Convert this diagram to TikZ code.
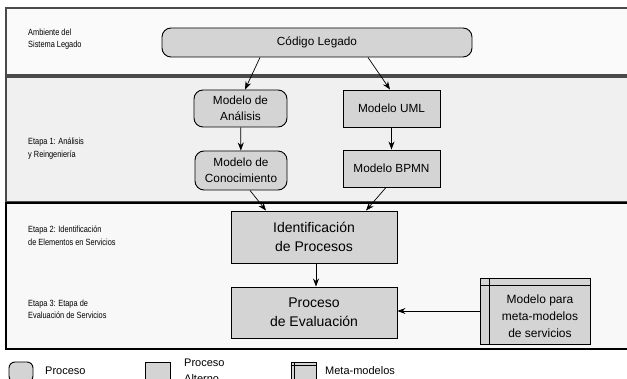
\documentclass[tikz,border=0pt]{standalone}
\usepackage{fontspec}
\setmainfont{Liberation Sans}
\newfontfamily\estrecha[FakeStretch=0.82]{Liberation Sans}
\usepackage{tikz}
\usetikzlibrary{arrows.meta, positioning}
\definecolor{nodegray}{HTML}{D4D4D4}
\definecolor{laneone}{HTML}{FAFAFA}
\definecolor{lanetwo}{HTML}{F0F0F0}
\definecolor{lanethree}{HTML}{F8F8F8}
\definecolor{lanedark}{HTML}{4A4A4A}
\tikzstyle{proceso} = [rectangle, rounded corners=9pt, inner sep=0pt, align=center, draw=black, line width=0.9pt, fill=nodegray, font=\fontsize{11.8}{16}\selectfont]
\tikzstyle{alterno} = [rectangle, inner sep=0pt, align=center, draw=black, line width=0.9pt, fill=nodegray, font=\fontsize{11.8}{16}\selectfont]
\tikzstyle{grande} = [font=\fontsize{14}{19}\selectfont]
\tikzstyle{metabox} = [rectangle, inner sep=0pt, draw=black, line width=0.9pt, fill=nodegray]
\tikzstyle{lanelabel} = [anchor=west, align=left, inner sep=0pt, font=\estrecha\fontsize{9}{12.5}\selectfont]
\tikzstyle{leglabel} = [anchor=west, align=left, inner sep=0pt, font=\fontsize{11}{16}\selectfont]
\tikzstyle{arrow} = [line width=0.7pt, -{Stealth[length=8pt, width=6pt]}]

\begin{document}
\begin{tikzpicture}[x=1pt, y=-1pt]
    \clip (0,0) rectangle (627,379);
    % carriles
    \draw[fill=laneone, draw=lanedark, line width=1.5pt] (6,8) rectangle (640,75);
    \draw[fill=lanetwo, draw=lanedark, line width=1.5pt] (6,77) rectangle (640,202);
    \draw[fill=lanethree, draw=black, line width=1.5pt] (6,203) rectangle (640,349);

    \node[lanelabel] (ambiente) at (28,39) {Ambiente del\\Sistema Legado};
    \node[lanelabel] (etapa1) at (28,148.5) {Etapa 1: Análisis\\y Reingeniería};
    \node[lanelabel] (etapa2) at (28,235.5) {Etapa 2: Identificación\\de Elementos en Servicios};
    \node[lanelabel] (etapa3) at (28,309.5) {Etapa 3: Etapa de\\Evaluación de Servicios};

    \node[proceso, minimum width=310, minimum height=29] (codigo) at (317,42.5) {Código Legado};
    \node[proceso, minimum width=93, minimum height=37] (analisis) at (240.5,108.5) {Modelo de\\Análisis};
    \node[proceso, minimum width=92, minimum height=39] (conoc) at (241,170.5) {Modelo de\\Conocimiento};
    \node[alterno, minimum width=97, minimum height=37] (uml) at (391.5,108.5) {Modelo UML};
    \node[alterno, minimum width=97, minimum height=37] (bpmn) at (391.5,168.5) {Modelo BPMN};

    \node[alterno, grande, minimum width=166, minimum height=52] (ident) at (314,237) {Identificación\\de Procesos};
    \node[alterno, grande, minimum width=166, minimum height=51] (evalua) at (314,312.5) {Proceso\\de Evaluación};

    \node[metabox, minimum width=110, minimum height=66] (meta) at (535,311) {};
    \draw[line width=0.9pt] ([yshift=-8pt]meta.north west) -- ([yshift=-8pt]meta.north east);
    \draw[line width=0.9pt] ([xshift=10pt]meta.north west) -- ([xshift=10pt]meta.south west);
    \node[align=center, inner sep=0pt, font=\fontsize{12}{17}\selectfont] (metatexto) at (540,316) {Modelo para\\meta-modelos\\de servicios};

    \draw[arrow] ([xshift=-57pt]codigo.south) -- ([xshift=4.5pt]analisis.north);
    \draw[arrow] ([xshift=51pt]codigo.south) -- ([xshift=-1.5pt]uml.north);
    \draw[arrow] (analisis) -- (conoc);
    \draw[arrow] (uml) -- (bpmn);
    \draw[arrow] ([xshift=9pt]conoc.south) -- ([xshift=-48pt]ident.north);
    \draw[arrow] ([xshift=-5.5pt]bpmn.south) -- ([xshift=52pt]ident.north);
    \draw[arrow] ([xshift=2pt]ident.south) -- ([xshift=2pt]evalua.north);
    \draw[arrow] (meta.west) -- (meta.west -| evalua.east);

    % leyenda
    \node[proceso, rounded corners=6pt, minimum width=24, minimum height=20] (legproc) at (21,372) {};
    \node[leglabel] (legproctxt) at (45,371) {Proceso};
    \node[alterno, minimum width=25, minimum height=20] (legalt) at (157.5,372) {};
    \node[leglabel] (legalttxt) at (184,370.5) {Proceso\\Alterno};
    \node[metabox, minimum width=25, minimum height=20] (legmeta) at (303.5,372) {};
    \draw[line width=0.9pt] ([yshift=-4pt]legmeta.north west) -- ([yshift=-4pt]legmeta.north east);
    \draw[line width=0.9pt] ([xshift=4pt]legmeta.north west) -- ([xshift=4pt]legmeta.south west);
    \node[leglabel] (legmetatxt) at (325,371) {Meta-modelos};
\end{tikzpicture}
\end{document}
